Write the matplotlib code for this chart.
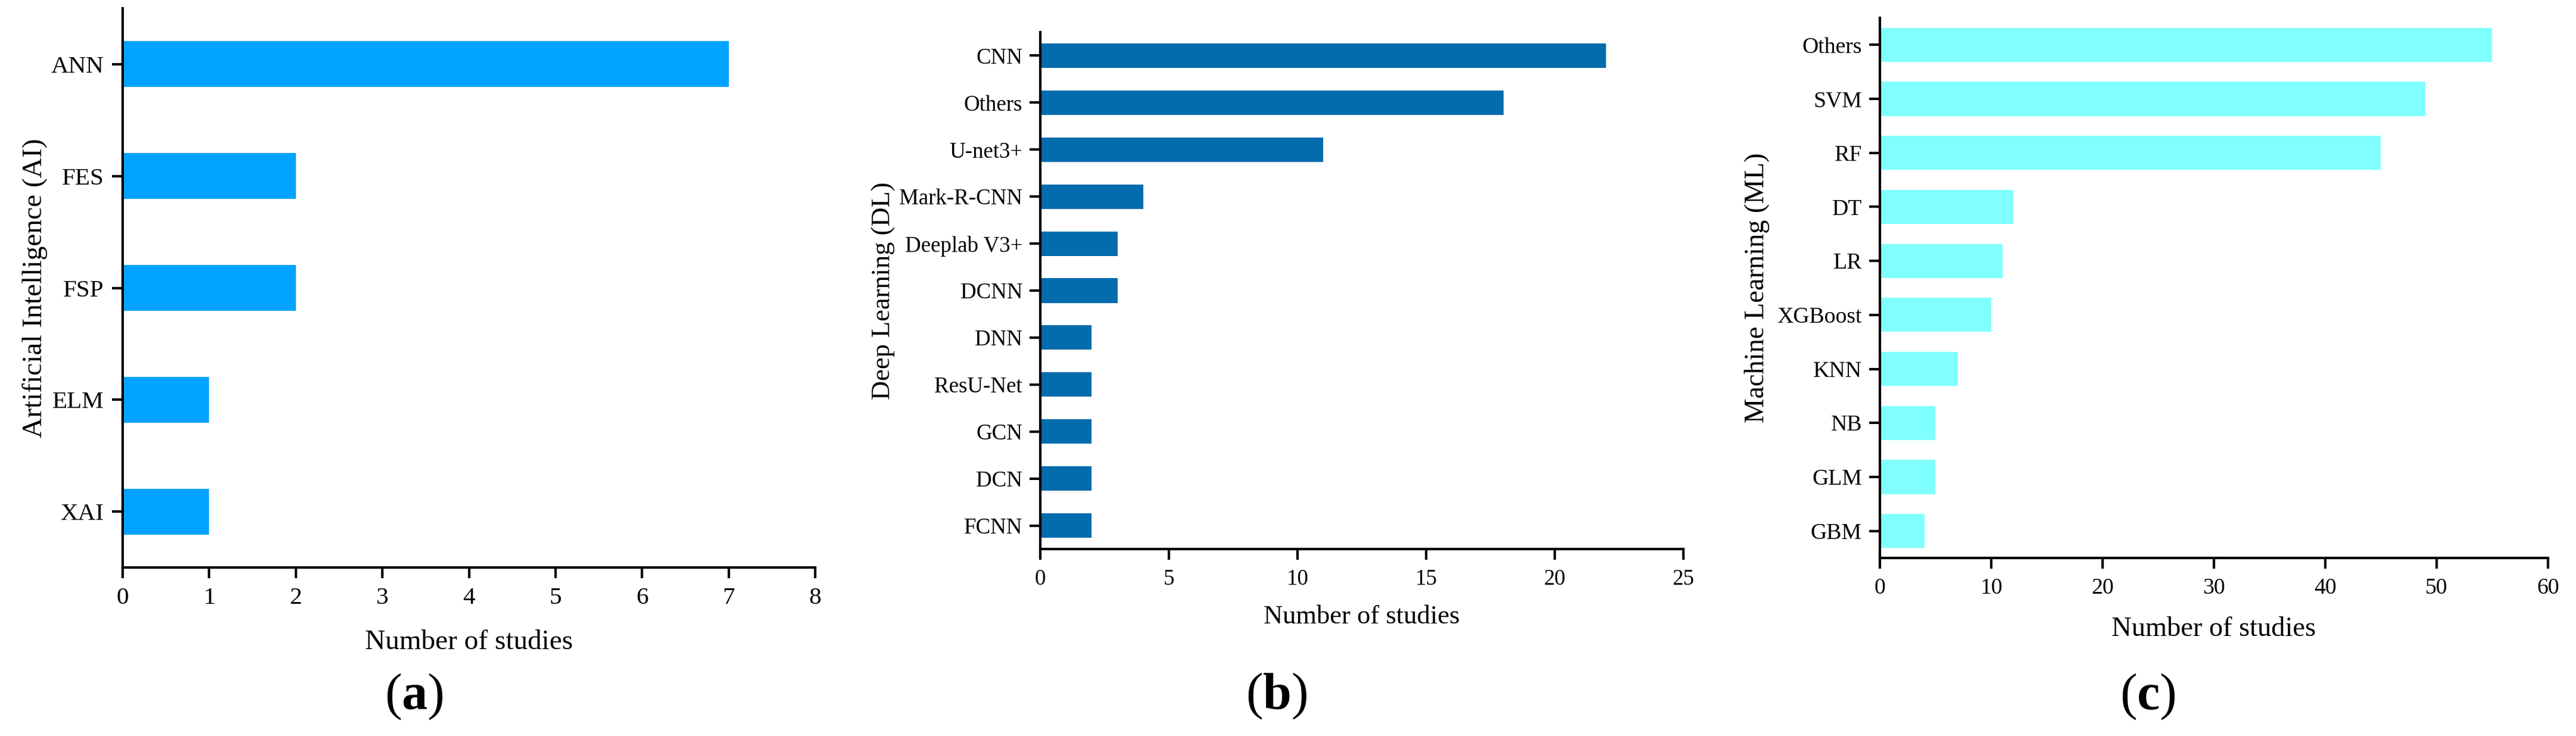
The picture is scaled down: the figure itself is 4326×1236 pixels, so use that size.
import matplotlib
matplotlib.use("Agg")
import matplotlib.pyplot as plt

plt.rcParams["font.family"] = ["Liberation Serif", "DejaVu Serif"]
plt.rcParams["mathtext.fontset"] = "custom"
plt.rcParams["mathtext.rm"] = "Liberation Serif"
plt.rcParams["mathtext.bf"] = "Liberation Serif:bold"

# (a) Artificial Intelligence
ai_methods = ["ANN", "FES", "FSP", "ELM", "XAI"]
ai_counts = [7, 2, 2, 1, 1]
ai_ticks = [0, 1, 2, 3, 4, 5, 6, 7, 8]

# (b) Deep Learning
dl_methods = ["CNN", "Others", "U-net3+", "Mark-R-CNN", "Deeplab V3+", "DCNN",
              "DNN", "ResU-Net", "GCN", "DCN", "FCNN"]
dl_counts = [22, 18, 11, 4, 3, 3, 2, 2, 2, 2, 2]
dl_ticks = [0, 5, 10, 15, 20, 25]

# (c) Machine Learning
ml_methods = ["Others", "SVM", "RF", "DT", "LR", "XGBoost", "KNN", "NB", "GLM", "GBM"]
ml_counts = [55, 49, 45, 12, 11, 10, 7, 5, 5, 4]
ml_ticks = [0, 10, 20, 30, 40, 50, 60]


def draw_panel(ax, methods, counts, ticks, color, bar_h, ylabel,
               tick_fs, label_fs, ypad, xlab_y, ylab_x):
    y = list(range(len(methods)))
    ax.barh(y, counts, height=bar_h, color=color, zorder=2)
    ax.set_ylim(len(methods) - 0.5, -0.5)
    ax.set_xlim(ticks[0], ticks[-1])
    ax.set_xticks(ticks)
    ax.set_yticks(y)
    ax.set_yticklabels(methods)

    for side in ["top", "right"]:
        ax.spines[side].set_visible(False)
    for side in ["left", "bottom"]:
        ax.spines[side].set_linewidth(1.5)

    ax.tick_params(axis="both", direction="out", length=6.5, width=1.5, labelsize=tick_fs)
    ax.tick_params(axis="y", pad=ypad)
    ax.tick_params(axis="x", pad=5.5)

    ax.set_xlabel("Number of studies", fontsize=label_fs, va="baseline")
    ax.xaxis.set_label_coords(0.5, xlab_y)
    ax.set_ylabel(ylabel, fontsize=label_fs, va="center")
    ax.yaxis.set_label_coords(ylab_x, 0.5)


fig = plt.figure(figsize=(21.63, 6.18), dpi=200)

ax_a = fig.add_axes([0.04762, 0.22896, 0.26884, 0.7597])
ax_b = fig.add_axes([0.40384, 0.25405, 0.24965, 0.70227])
ax_c = fig.add_axes([0.72977, 0.24191, 0.25936, 0.73382])

draw_panel(ax_a, ai_methods, ai_counts, ai_ticks, "#02A3FE", 0.41,
           "Artificial Intelligence (AI)", 14.8, 17.0, 4.9, -0.1459, -0.127)
draw_panel(ax_b, dl_methods, dl_counts, dl_ticks, "#026CAD", 0.52,
           "Deep Learning (DL)", 13.3, 16.0, 4.3, -0.144, -0.2437)
draw_panel(ax_c, ml_methods, ml_counts, ml_ticks, "#80FFFF", 0.63,
           "Machine Learning (ML)", 13.6, 16.7, 4.3, -0.1444, -0.1836)

fig.text(695 / 4326, 1 - 1170 / 1236, r"($\mathbf{a}$)", fontsize=31, ha="center", va="center")
fig.text(2144 / 4326, 1 - 1169 / 1236, r"($\mathbf{b}$)", fontsize=31, ha="center", va="center")
fig.text(3607 / 4326, 1 - 1170 / 1236, r"($\mathbf{c}$)", fontsize=31, ha="center", va="center")

fig.savefig("out.png", dpi=200, facecolor="white")
